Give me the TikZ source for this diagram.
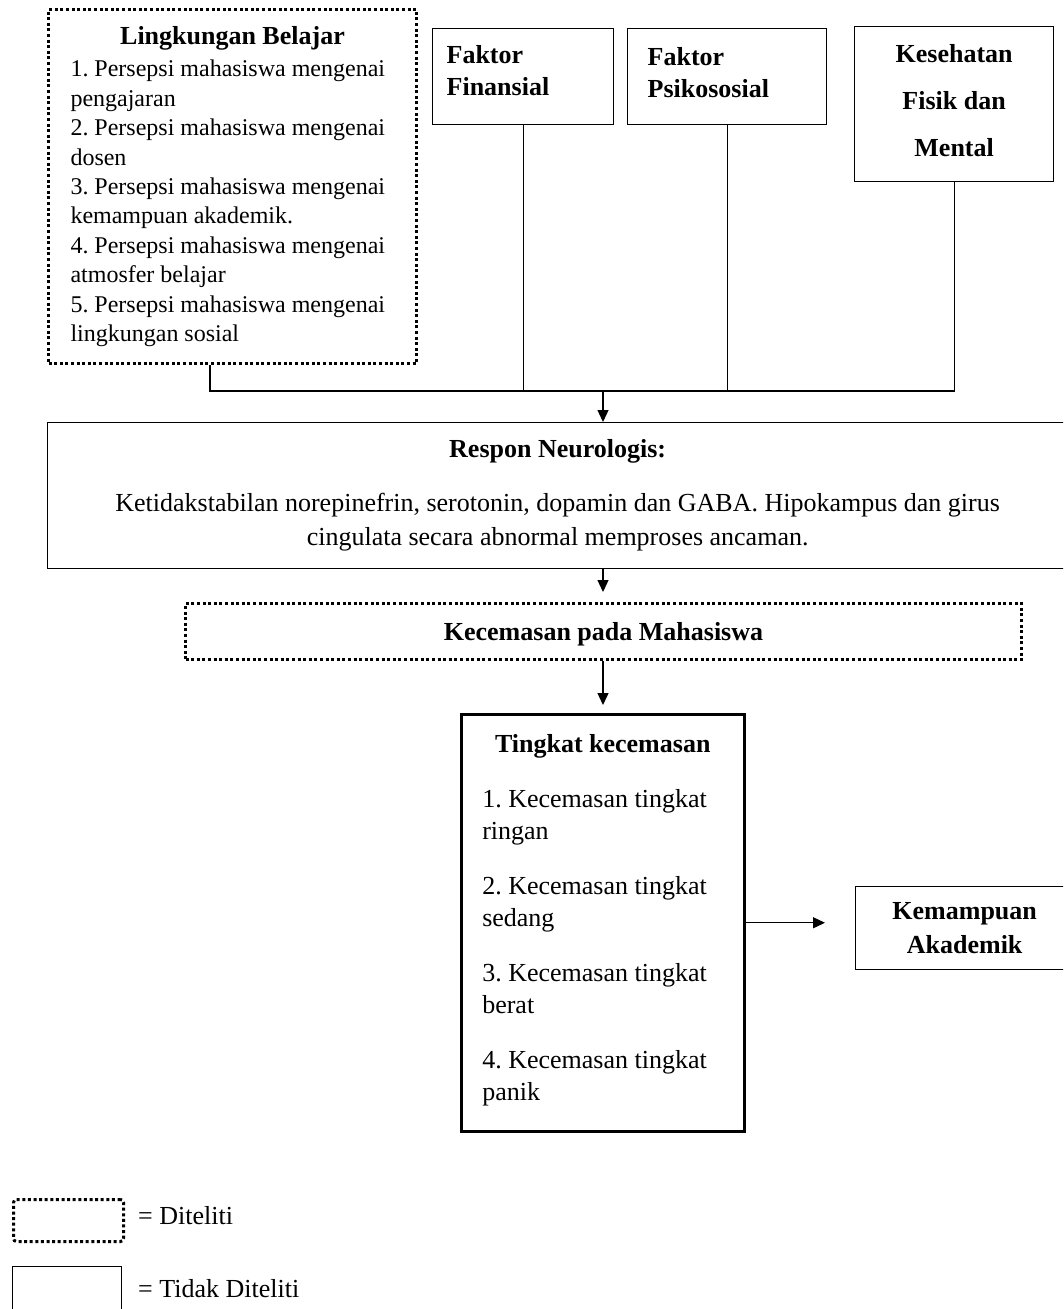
\documentclass[tikz,border=0pt]{standalone}
\usepackage{fontspec}
\setmainfont{Liberation Serif}
\usetikzlibrary{arrows.meta, calc}

\newcommand{\nsp}{\spaceskip=\fontdimen2\font\relax\xspaceskip=\fontdimen2\font\relax}
\newcommand{\reg}{\normalfont\fontsize{26}{32}\selectfont\nsp}
\newcommand{\bld}{\normalfont\fontsize{26}{32}\selectfont\bfseries\nsp}

\begin{document}
\begin{tikzpicture}[x=1pt, y=-1pt,
    plain/.style={draw, line width=1.3pt, inner sep=0pt},
    dotbox/.style={draw, line width=3pt, dash pattern=on 3pt off 2.6pt, inner sep=0pt},
    arr/.style={-{Triangle[length=12pt,width=11pt]}, line width=1.3pt},
    ln/.style={line width=1.3pt}]

    \useasboundingbox (0,0) rectangle (1063,1309);
    \clip (0,0) rectangle (1063,1309);

    % top row
    \node (ling) [dotbox, anchor=north west, text width=324pt, inner xsep=22pt, minimum height=354pt, align=left] at (47,8)
        {{\centering\bld Lingkungan Belajar\par}\vspace{3pt}
         \normalfont\fontsize{24}{29.4}\selectfont\nsp
         1. Persepsi mahasiswa mengenai\\ pengajaran\\
         2. Persepsi mahasiswa mengenai\\ dosen\\
         3. Persepsi mahasiswa mengenai\\ kemampuan akademik.\\
         4. Persepsi mahasiswa mengenai\\ atmosfer belajar\\
         5. Persepsi mahasiswa mengenai\\ lingkungan sosial\par};
    \node (fin) [plain, anchor=north west, text width=153pt, inner xsep=14pt, minimum height=96pt, align=left] at (432,28)
        {\bld Faktor\\ Finansial\\[-20pt]\mbox{}\par};
    \node (psi) [plain, anchor=north west, text width=159pt, inner xsep=20pt, minimum height=96pt, align=left] at (627,28)
        {\bld Faktor\\ Psikososial\\[-24pt]\mbox{}\par};
    \node (kes) [plain, anchor=north west, text width=199pt, minimum height=155pt, align=center] at (854,26)
        {\bld\fontsize{26}{47}\selectfont\nsp Kesehatan\\ Fisik dan\\ Mental\\[-39pt]\mbox{}\par};

    % middle
    \node (resp) [plain, anchor=north west, text width=1000pt, inner xsep=10pt, minimum height=146pt, align=center] at (47,422)
        {\bld Respon Neurologis:\\[20pt]
         \reg\fontsize{26}{34}\selectfont\nsp Ketidakstabilan norepinefrin, serotonin, dopamin dan GABA. Hipokampus dan girus\\
         cingulata secara abnormal memproses ancaman.\par};
    \node (kec) [dotbox, anchor=north west, minimum width=836pt, minimum height=56pt, font=\bld, text height=24pt, text depth=6pt] at (184,602)
        {Kecemasan pada Mahasiswa};

    % bottom
    \node (ting) [plain, line width=2.5pt, anchor=north west, text width=241pt, inner xsep=21pt, minimum height=417pt, align=left] at (460,713)
        {{\centering\bld Tingkat kecemasan\par}\vspace{23pt}
         \reg 1. Kecemasan tingkat\\ ringan\\[23pt]
         2. Kecemasan tingkat\\ sedang\\[23pt]
         3. Kecemasan tingkat\\ berat\\[23pt]
         4. Kecemasan tingkat\\ panik\\[-22pt]\mbox{}\par};
    \node (kem) [plain, anchor=north west, text width=218pt, minimum height=83pt, align=center] at (855,886)
        {\bld\fontsize{26}{34}\selectfont\nsp Kemampuan\\ Akademik\par};

    % legend
    \node (legdot) [dotbox, anchor=north west, minimum width=110pt, minimum height=42pt, rounded corners=3pt] at (12,1198) {};
    \node (legdottxt) [anchor=west, inner sep=0pt, font=\reg] at (138,1216) {= Diteliti};
    \node (legsol) [plain, anchor=north west, minimum width=109pt, minimum height=60pt] at (12,1266) {};
    \node (legsoltxt) [anchor=west, inner sep=0pt, font=\reg] at (138,1289) {= Tidak Diteliti};

    % connectors
    \coordinate (bus) at (0,391);
    \coordinate (jn) at (603,391);
    \coordinate (lingout) at ($(ling.south west)+(163,0)$);
    \draw[ln] (lingout) |- (kes.south |- bus) -- (kes.south);
    \draw[ln] (fin.south) -- (fin.south |- bus);
    \draw[ln] (psi.south) -- (psi.south |- bus);
    \draw[arr] (jn) -- (jn |- resp.north);
    \draw[arr, shorten >=10pt] (resp.south -| jn) -- (kec.north -| jn);
    \draw[arr, shorten >=8pt] (kec.south -| jn) -- (ting.north -| jn);
    \draw[arr] (ting.east) -- ([xshift=-30pt]kem.west |- ting.east);

\end{tikzpicture}
\end{document}
